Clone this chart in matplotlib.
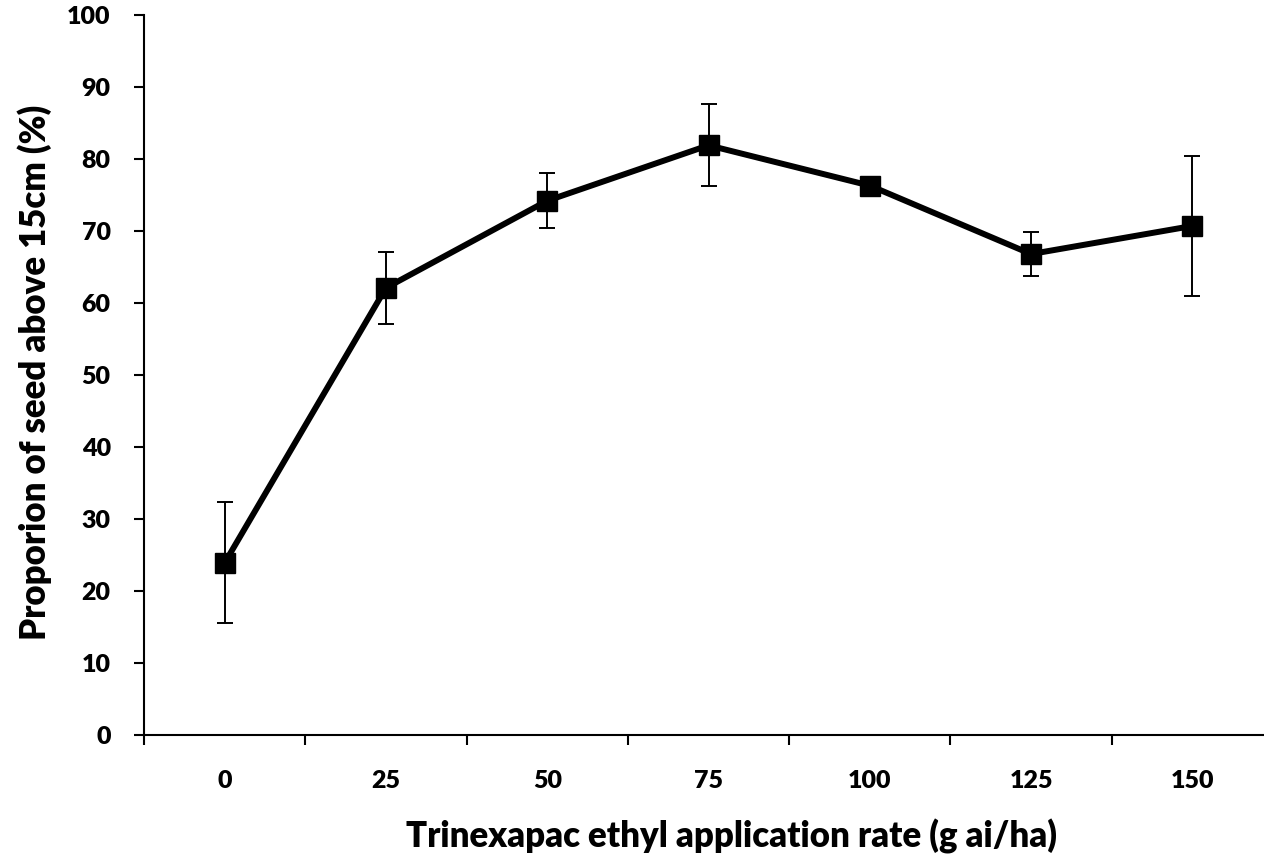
import matplotlib
matplotlib.use("Agg")
import matplotlib.pyplot as plt
import numpy as np
from matplotlib.ticker import FixedLocator

# data
rates = ["0", "25", "50", "75", "100", "125", "150"]
proportion = [23.9, 62.1, 74.2, 81.9, 76.3, 66.8, 70.7]
std_err = [8.4, 5.0, 3.8, 5.7, 0.8, 3.1, 9.7]
y_ticks = [0, 10, 20, 30, 40, 50, 60, 70, 80, 90, 100]

plt.rcParams['font.family'] = ['Lato', 'DejaVu Sans']
plt.rcParams['font.weight'] = 'bold'

fig = plt.figure(figsize=(12.64, 8.59), dpi=100, facecolor='w')
# right edge of the plot runs past the figure, as in the reference
ax = fig.add_axes([144 / 1264, 1 - 735 / 859, 1129 / 1264, 720 / 859])

x = np.arange(len(rates))
ax.errorbar(x, proportion, yerr=std_err, fmt='none', ecolor='black',
            elinewidth=1.4, capsize=5.5, capthick=1.4, zorder=2)
ax.plot(x, proportion, color='black', linewidth=4.3, marker='s',
        markersize=15, markerfacecolor='black', zorder=3)

ax.set_xlim(-0.5, len(rates) - 0.5)
ax.set_ylim(0, 100)
ax.set_yticks(y_ticks, labels=[str(v) for v in y_ticks], fontweight='heavy', fontsize=18)
ax.set_xticks(x, labels=rates, fontweight='heavy', fontsize=18)
ax.xaxis.set_minor_locator(FixedLocator(np.arange(-0.5, len(rates), 1.0)))

for side in ['top', 'right']:
    ax.spines[side].set_visible(False)
for side in ['left', 'bottom']:
    ax.spines[side].set_linewidth(1.5)

ax.tick_params(axis='y', direction='out', length=7, width=1.5, pad=17)
ax.tick_params(axis='x', which='major', length=0, pad=25)
ax.tick_params(axis='x', which='minor', direction='out', length=7, width=1.5)

fig.text(731 / 1264, 1 - 836 / 859, "Trinexapac ethyl application rate (g ai/ha)",
         ha='center', va='center', fontsize=25, fontweight='heavy')
fig.text(35 / 1264, 1 - 372 / 859, "Proporion of seed above 15cm (%)",
         ha='center', va='center', rotation=90, fontsize=25, fontweight='heavy')

fig.savefig('out.png', dpi=100, facecolor='w')
plt.close()
